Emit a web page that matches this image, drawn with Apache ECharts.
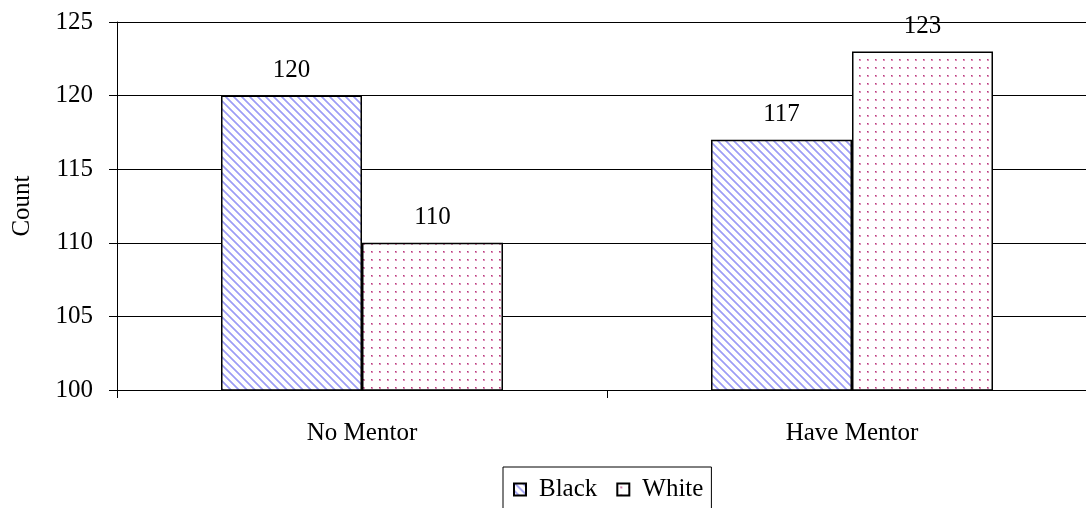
<!DOCTYPE html>
<html>
<head>
<meta charset="utf-8">
<script src="https://cdn.jsdelivr.net/npm/echarts@6/dist/echarts.min.js"></script>
<style>
  html, body { margin: 0; padding: 0; background: #fff; overflow: hidden; }
  /* plot area runs slightly past the right edge of the window */
  #chart { width: 1097px; height: 508px; }
</style>
</head>
<body>
<div id="chart"></div>
<script>
// Mentoring groups and counts per race
const categories = ['No Mentor', 'Have Mentor'];
const seriesNames = ['Black', 'White'];
const blackValues = [120, 117];
const whiteValues = [110, 123];
const yTicks = { min: 100, max: 125, interval: 5 };

// Diagonal blue hatch fill
function stripeTile() {
  const c = document.createElement('canvas');
  c.width = 8; c.height = 8;
  const ctx = c.getContext('2d');
  ctx.fillStyle = '#ffffff';
  ctx.fillRect(0, 0, 8, 8);
  for (let y = 0; y < 8; y++) {
    for (let x = 0; x < 8; x++) {
      const k = ((x - y) % 8 + 8) % 8;
      if (k < 3) {
        ctx.fillStyle = k === 1 ? '#9d9df5' : '#b8b8f8';
        ctx.fillRect(x, y, 1, 1);
      }
    }
  }
  return c;
}

// Sparse pink dot fill
function dotTile() {
  const c = document.createElement('canvas');
  c.width = 8; c.height = 8;
  const ctx = c.getContext('2d');
  ctx.fillStyle = '#ffffff';
  ctx.fillRect(0, 0, 8, 8);
  ctx.fillStyle = '#dc8fb8';
  ctx.fillRect(3, 3, 2, 2);
  ctx.fillStyle = '#b83c7c';
  ctx.fillRect(3, 3, 1, 1);
  return c;
}

const font = 'Liberation Serif';
const chart = echarts.init(document.getElementById('chart'), null, { renderer: 'canvas' });

const barStyle = (tile) => ({
  color: { image: tile, repeat: 'repeat' },
  borderColor: '#000',
  borderWidth: 1.5
});

const labelStyle = {
  show: true,
  position: 'top',
  distance: 13,
  fontFamily: font,
  fontSize: 25,
  color: '#000'
};

chart.setOption({
  animation: false,
  backgroundColor: '#fff',
  grid: { left: 117, top: 22, right: 0, bottom: 118 },
  legend: {
    data: seriesNames,
    icon: 'rect',
    left: 503,
    top: 467,
    itemWidth: 12,
    itemHeight: 12,
    itemGap: 19,
    padding: [10, 8, 20, 10],
    borderColor: '#000',
    borderWidth: 1,
    borderRadius: 0,
    textStyle: { fontFamily: font, fontSize: 25, lineHeight: 25, color: '#000', padding: [0, 0, 0, 8] }
  },
  xAxis: {
    type: 'category',
    data: categories,
    axisLine: { lineStyle: { color: '#000', width: 1 } },
    axisTick: { show: true, length: 8, lineStyle: { color: '#000' } },
    axisLabel: { fontFamily: font, fontSize: 25, color: '#000', margin: 31 },
    splitLine: { show: false }
  },
  yAxis: {
    type: 'value',
    min: yTicks.min,
    max: yTicks.max,
    interval: yTicks.interval,
    name: 'Count',
    nameLocation: 'middle',
    nameGap: 82,
    nameTextStyle: { fontFamily: font, fontSize: 25, color: '#000' },
    axisLine: { show: true, lineStyle: { color: '#000', width: 1 } },
    axisTick: { show: true, length: 8, lineStyle: { color: '#000' } },
    axisLabel: { fontFamily: font, fontSize: 25, color: '#000', margin: 24 },
    splitLine: { show: true, lineStyle: { color: '#000', width: 1 } }
  },
  series: [
    {
      name: seriesNames[0],
      type: 'bar',
      data: blackValues,
      barWidth: 141,
      barGap: '0%',
      itemStyle: barStyle(stripeTile()),
      label: labelStyle
    },
    {
      name: seriesNames[1],
      type: 'bar',
      data: whiteValues,
      barWidth: 141,
      barGap: '0%',
      itemStyle: barStyle(dotTile()),
      label: labelStyle
    }
  ]
});
</script>
</body>
</html>
